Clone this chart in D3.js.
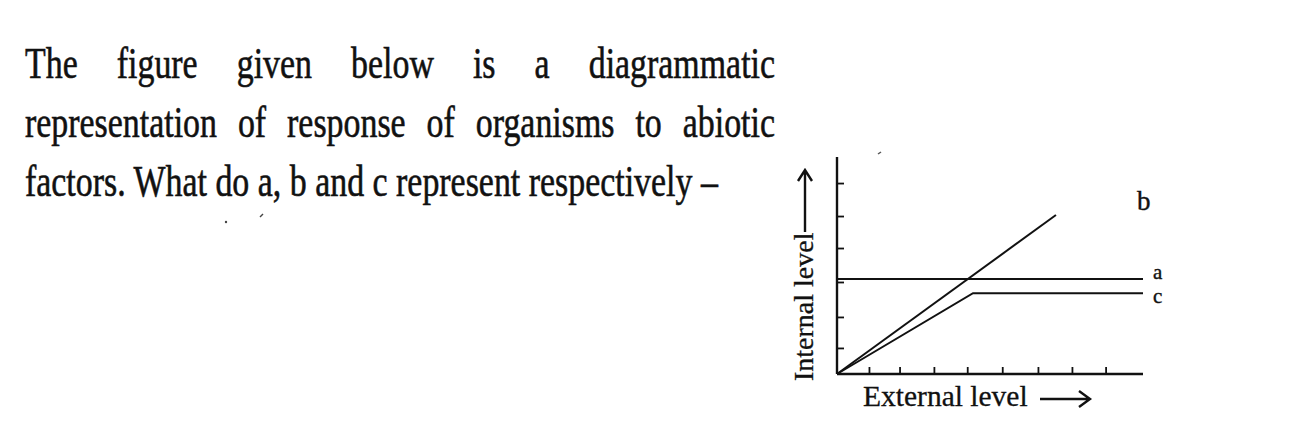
<!DOCTYPE html>
<html><head><meta charset="utf-8">
<script src="https://cdn.jsdelivr.net/npm/d3@7"></script>
<style>html,body{margin:0;padding:0;background:#fff;}</style>
</head><body>
<svg id="c" width="1315" height="446"></svg>
<script>
// ---- data ----
const questionLines = [
  "The figure given below is a diagrammatic",
  "representation of response of organisms to abiotic",
  "factors. What do a, b and c represent respectively \u2013"
];
const justifyLine = [true, true, false];
const seriesNames = ["a", "b", "c"];
const seriesA = [[0, 2.88], [9, 2.88]];
const seriesB = [[0, 0], [6.44, 4.82]];
const seriesC = [[0, 0], [4.0, 2.45], [9, 2.45]];
const xTickValues = [0.94, 1.84, 2.85, 3.83, 4.86, 5.91, 6.91, 7.9];
const yTickValues = [0.79, 1.73, 2.79, 3.82, 4.79, 5.79];
const xLabel = "External level";
const yLabel = "Internal level";

const svg = d3.select("#c");
const ink = "#111";

// ---- question text ----
const serif = "'Liberation Serif', 'Times New Roman', serif";
const textLeft = 25, textRight = 775, line3Right = 718;
const baselines = [78, 137, 196];
const tg = svg.append("g");
const nodes = questionLines.map((t, i) => tg.append("text")
  .attr("font-family", serif).attr("font-size", 45).attr("fill", ink)
  .attr("stroke", ink).attr("stroke-width", 0.6)
  .text(t));
const w3 = nodes[2].node().getComputedTextLength();
const sx = (line3Right - textLeft) / w3;
nodes.forEach((n, i) => {
  n.attr("transform", `translate(${textLeft},${baselines[i]}) scale(${sx},1)`);
  if (justifyLine[i]) {
    const w = n.node().getComputedTextLength();
    const spaces = questionLines[i].split(" ").length - 1;
    const extra = ((textRight - textLeft) / sx - w) / spaces;
    n.attr("word-spacing", extra);
  }
});

// ---- chart ----
const x = d3.scaleLinear().domain([0, 9]).range([837, 1143]);
const y = d3.scaleLinear().domain([0, 6.58]).range([374, 157]);

const xAxis = d3.axisBottom(x).tickValues(xTickValues).tickSize(-7).tickFormat("");
const yAxis = d3.axisLeft(y).tickValues(yTickValues).tickSize(-7).tickFormat("");
const gx = svg.append("g").attr("transform", `translate(0,${y(0)})`).call(xAxis);
const gy = svg.append("g").attr("transform", `translate(${x(0)},0)`).call(yAxis);
[gx, gy].forEach(g => {
  g.select(".domain").attr("stroke", ink).attr("stroke-width", 2.4);
  g.selectAll(".tick line").attr("stroke", ink).attr("stroke-width", 1.8);
});
gx.select(".domain").attr("d", `M${x(0)},0H${x(9)}`);
gy.select(".domain").attr("d", `M0,${y(0)}V${y(6.58)}`);

const line = d3.line().x(d => x(d[0])).y(d => y(d[1]));
[seriesA, seriesB, seriesC].forEach(s => {
  svg.append("path").attr("d", line(s)).attr("fill", "none")
    .attr("stroke", ink).attr("stroke-width", 2).attr("stroke-linejoin", "miter");
});

// series labels
const lab = (txt, lx, ly, fs) => svg.append("text").attr("x", lx).attr("y", ly)
  .attr("font-family", serif).attr("font-size", fs).attr("fill", ink)
  .attr("stroke", ink).attr("stroke-width", 0.4).text(txt);
lab(seriesNames[1], 1137, 210, 27);
lab(seriesNames[0], 1153, 279, 21);
lab(seriesNames[2], 1153, 303, 21);

// axis titles
svg.append("text").attr("transform", "translate(813,381) rotate(-90)")
  .attr("font-family", serif).attr("font-size", 28).attr("fill", ink)
  .attr("stroke", ink).attr("stroke-width", 0.3).text(yLabel);
svg.append("text").attr("x", 863).attr("y", 406)
  .attr("font-family", serif).attr("font-size", 29.5).attr("fill", ink)
  .attr("stroke", ink).attr("stroke-width", 0.3).text(xLabel);

// arrows
const arrows = svg.append("g").attr("stroke", ink).attr("stroke-width", 2.4).attr("fill", "none");
arrows.append("path").attr("d", "M805,232V170M798,181L805,170L812,181");
arrows.append("path").attr("d", "M1040,399H1090M1079,391L1090,399L1079,407");

// stray specks in the scan
svg.append("circle").attr("cx", 226).attr("cy", 222).attr("r", 1.2).attr("fill", "#444");
svg.append("path").attr("d", "M260,217l3,-3").attr("stroke", "#444").attr("stroke-width", 1.5);
svg.append("path").attr("d", "M878,154l3,-2").attr("stroke", "#555").attr("stroke-width", 1.5);
</script>
</body></html>
